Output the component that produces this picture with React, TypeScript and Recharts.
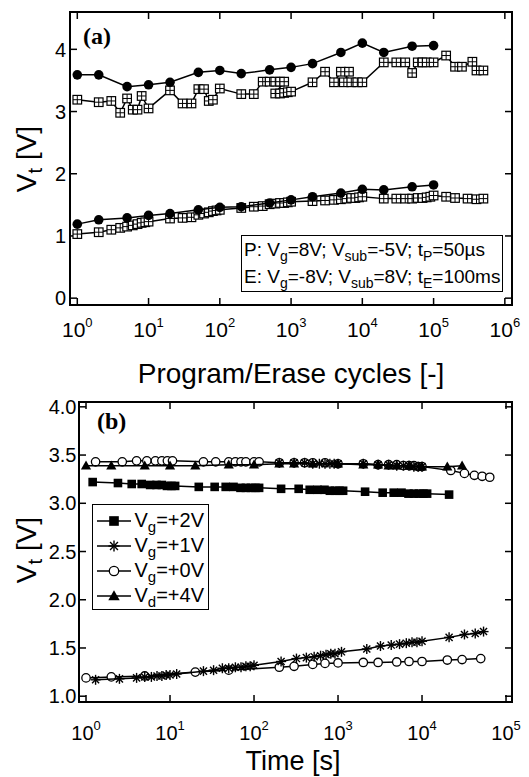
import React from 'react';
import { ScatterChart, Scatter, XAxis, YAxis, Legend } from 'recharts';

const FONT = "'Liberation Sans', Arial, Helvetica, sans-serif";
const SERIF = "'Liberation Serif', 'Times New Roman', serif";

// ---------------- Panel (a): Program/Erase endurance ----------------
const cyclesDot = [1, 2, 5, 10, 20, 50, 100, 200, 500, 1000, 2000, 5000, 10000, 20000, 50000, 100000];
const vtDotProg = [3.59, 3.59, 3.4, 3.43, 3.47, 3.63, 3.66, 3.61, 3.67, 3.71, 3.77, 3.95, 4.1, 3.95, 4.05, 4.06];
const vtDotErase = [1.19, 1.26, 1.29, 1.33, 1.36, 1.42, 1.46, 1.47, 1.53, 1.58, 1.63, 1.69, 1.75, 1.74, 1.79, 1.82];

const cyclesSqProg = [1, 2, 3, 4, 5, 6, 7, 8, 10, 20, 30, 40, 50, 60, 70, 80, 100, 200, 300, 400, 500, 600, 700, 800, 600, 700, 800, 900, 1000, 2000, 3000, 4000, 5000, 6500, 5500, 7000, 8500, 10000, 20000, 30000, 40000, 50000, 60000, 70000, 80000, 100000, 150000, 200000, 250000, 350000, 400000, 500000];
const vtSqProg = [3.19, 3.15, 3.17, 2.98, 3.21, 3.03, 3.03, 3.25, 3.05, 3.34, 3.13, 3.13, 3.36, 3.36, 3.17, 3.19, 3.37, 3.28, 3.28, 3.48, 3.48, 3.48, 3.48, 3.48, 3.29, 3.29, 3.3, 3.31, 3.32, 3.47, 3.64, 3.47, 3.64, 3.64, 3.47, 3.47, 3.47, 3.47, 3.79, 3.79, 3.79, 3.62, 3.79, 3.79, 3.79, 3.79, 3.9, 3.72, 3.72, 3.8, 3.66, 3.66];

const cyclesSqErase = [1, 2, 3, 4, 5, 6, 7, 8, 9, 10, 20, 30, 40, 50, 60, 70, 80, 90, 100, 200, 300, 400, 500, 600, 700, 800, 900, 1000, 2000, 3000, 4000, 5000, 6000, 7000, 8000, 9000, 10000, 20000, 30000, 40000, 50000, 60000, 70000, 80000, 90000, 100000, 150000, 200000, 300000, 400000, 500000];
const vtSqErase = [1.03, 1.06, 1.1, 1.13, 1.15, 1.17, 1.19, 1.21, 1.22, 1.23, 1.28, 1.29, 1.3, 1.34, 1.36, 1.38, 1.4, 1.41, 1.42, 1.45, 1.47, 1.48, 1.51, 1.52, 1.53, 1.53, 1.54, 1.55, 1.56, 1.57, 1.58, 1.59, 1.6, 1.61, 1.61, 1.62, 1.63, 1.6, 1.6, 1.6, 1.6, 1.61, 1.61, 1.62, 1.63, 1.65, 1.63, 1.61, 1.6, 1.59, 1.6];

const cycleTicks = [1, 10, 100, 1000, 10000, 100000, 1000000];
const vtTicksA = [0, 1, 2, 3, 4];

// ---------------- Panel (b): retention under gate/drain stress ----------------
const timeSq = [1.2, 2.4, 3.5, 4.6, 5.8, 6.9, 8, 9.2, 10.4, 11.5, 22, 34, 46, 57, 69, 80, 92, 104, 115, 210, 340, 460, 570, 690, 800, 920, 1040, 1150, 2100, 3400, 4600, 5700, 6900, 8000, 9200, 10400, 11500, 21000];
const vtSq = [3.22, 3.21, 3.2, 3.2, 3.19, 3.19, 3.19, 3.18, 3.18, 3.18, 3.17, 3.17, 3.17, 3.17, 3.16, 3.16, 3.16, 3.16, 3.16, 3.15, 3.15, 3.14, 3.14, 3.14, 3.13, 3.13, 3.13, 3.13, 3.12, 3.11, 3.11, 3.11, 3.1, 3.1, 3.1, 3.1, 3.1, 3.09];

const timeTri = [1, 2, 5, 10, 20, 50, 100, 200, 300, 500, 1000, 2000, 3000, 4000, 5000, 7000, 10000, 20000, 30000];
const vtTri = [3.39, 3.39, 3.39, 3.39, 3.39, 3.4, 3.4, 3.41, 3.41, 3.41, 3.41, 3.4, 3.4, 3.39, 3.39, 3.39, 3.38, 3.38, 3.39];

const timeCircHi = [1.3, 2.7, 4, 5.3, 6.7, 8, 9.3, 10.7, 25, 35, 50, 60, 70, 80, 100, 115, 200, 300, 400, 500, 700, 1000, 2000, 3000, 4000, 5000, 6000, 7000, 8000, 9000, 10000, 22000, 32000, 42000, 52000, 64000];
const vtCircHi = [3.43, 3.43, 3.44, 3.44, 3.44, 3.44, 3.44, 3.44, 3.43, 3.43, 3.43, 3.43, 3.43, 3.43, 3.43, 3.43, 3.42, 3.42, 3.42, 3.42, 3.42, 3.41, 3.41, 3.4, 3.4, 3.4, 3.39, 3.39, 3.39, 3.38, 3.38, 3.34, 3.31, 3.29, 3.28, 3.27];

const timeStarHi = [200, 300, 400, 500, 600, 700, 800, 900, 1000, 2000, 3000, 4000, 5000, 6000, 7000, 8000, 9000, 10000];
const vtStarHi = [3.42, 3.42, 3.42, 3.41, 3.41, 3.41, 3.41, 3.41, 3.41, 3.41, 3.4, 3.4, 3.39, 3.39, 3.39, 3.38, 3.38, 3.38];

const timeStarLo = [1.3, 2.5, 4, 5, 6, 7, 8, 9, 10, 12, 25, 33, 42, 50, 60, 70, 80, 90, 100, 210, 320, 420, 520, 620, 720, 820, 920, 1100, 2200, 3200, 4300, 5400, 6500, 7600, 8700, 10000, 21000, 32000, 43000, 54000];
const vtStarLo = [1.17, 1.18, 1.19, 1.2, 1.2, 1.21, 1.21, 1.22, 1.22, 1.23, 1.26, 1.27, 1.29, 1.29, 1.3, 1.3, 1.31, 1.31, 1.32, 1.36, 1.39, 1.4, 1.41, 1.42, 1.43, 1.44, 1.44, 1.46, 1.49, 1.52, 1.53, 1.54, 1.55, 1.56, 1.56, 1.57, 1.61, 1.64, 1.65, 1.67];

const timeCircLo = [1, 2, 5, 20, 50, 200, 300, 500, 700, 1000, 2000, 3000, 5000, 7000, 10000, 20000, 30000, 50000];
const vtCircLo = [1.19, 1.2, 1.21, 1.25, 1.27, 1.3, 1.31, 1.33, 1.34, 1.345, 1.35, 1.35, 1.355, 1.36, 1.36, 1.375, 1.38, 1.39];

const timeTicks = [1, 10, 100, 1000, 10000, 100000];
const vtTicksB = [1.0, 1.5, 2.0, 2.5, 3.0, 3.5, 4.0];

type Pt = { x: number; y: number };
const zip = (xs: number[], ys: number[]): Pt[] => xs.map((x, i) => ({ x, y: ys[i] }));

// ---------------- markers ----------------
const BigDot = (p: any) => <circle cx={p.cx} cy={p.cy} r={4.8} fill="#000" />;
const GridSquare = (p: any) => {
  const h = 4.3;
  return (
    <g>
      <rect x={p.cx - h} y={p.cy - h} width={2 * h} height={2 * h} fill="#fff" stroke="#000" strokeWidth={1.2} />
      <line x1={p.cx - h} y1={p.cy} x2={p.cx + h} y2={p.cy} stroke="#000" strokeWidth={1} />
      <line x1={p.cx} y1={p.cy - h} x2={p.cx} y2={p.cy + h} stroke="#000" strokeWidth={1} />
    </g>
  );
};
const FilledSquare = (p: any) => {
  const h = 4.3 * (p.s || 1);
  return <rect x={p.cx - h} y={p.cy - h} width={2 * h} height={2 * h} fill="#000" />;
};
const Star = (p: any) => {
  const r = 5 * (p.s || 1);
  const d = r * 0.707;
  return (
    <g stroke="#000" strokeWidth={1.4}>
      <line x1={p.cx - r} y1={p.cy} x2={p.cx + r} y2={p.cy} />
      <line x1={p.cx} y1={p.cy - r} x2={p.cx} y2={p.cy + r} />
      <line x1={p.cx - d} y1={p.cy - d} x2={p.cx + d} y2={p.cy + d} />
      <line x1={p.cx - d} y1={p.cy + d} x2={p.cx + d} y2={p.cy - d} />
    </g>
  );
};
const OpenCircle = (p: any) => (
  <circle cx={p.cx} cy={p.cy} r={4.2 * (p.s || 1)} fill="#fff" stroke="#000" strokeWidth={1.3} />
);
const Triangle = (p: any) => {
  const w = 5.1 * (p.s || 1);
  return (
    <polygon
      points={`${p.cx},${p.cy - w} ${p.cx + w},${p.cy + w * 0.75} ${p.cx - w},${p.cy + w * 0.75}`}
      fill="#000"
    />
  );
};

// ---------------- ticks and labels ----------------
const PowTick = (props: any) => {
  const { x, y, payload, fs, sfs, rise } = props;
  const e = Math.round(Math.log10(payload.value));
  return (
    <text x={x} y={y} textAnchor="middle" fontFamily={FONT} fontSize={fs} fill="#000">
      <tspan>10</tspan>
      <tspan fontSize={sfs} dy={-rise}>{e}</tspan>
    </text>
  );
};
const NumTick = (props: any) => {
  const { x, y, payload, fs, digits } = props;
  return (
    <text x={x} y={y} dy={fs * 0.36} textAnchor="end" fontFamily={FONT} fontSize={fs} fill="#000">
      {Number(payload.value).toFixed(digits)}
    </text>
  );
};
const NoTick = () => <g />;

const VtTitle = (props: any) => {
  const { px, py } = props;
  return (
    <text
      x={px}
      y={py}
      transform={`rotate(-90, ${px}, ${py})`}
      textAnchor="middle"
      fontFamily={FONT}
      fontSize={28}
      fill="#000"
    >
      V<tspan fontSize={20} dy={6}>t</tspan>
      <tspan dy={-6}> [V]</tspan>
    </text>
  );
};
const XTitle = (props: any) => {
  const { px, py, text, fs } = props;
  return (
    <text x={px} y={py} textAnchor="middle" fontFamily={FONT} fontSize={fs || 28} fill="#000">
      {text}
    </text>
  );
};
const PanelLabel = (props: any) => {
  const { px, py, text } = props;
  return (
    <text x={px} y={py} fontFamily={SERIF} fontWeight="bold" fontSize={24} fill="#000">
      {text}
    </text>
  );
};

const Sub = ({ children, fs }: any) => (
  <span style={{ fontSize: fs, position: 'relative', top: 5 }}>{children}</span>
);

const LegendA = () => (
  <div
    style={{
      boxSizing: 'border-box',
      width: 262,
      height: 57,
      border: '1.5px solid #000',
      background: '#fff',
      fontFamily: FONT,
      fontSize: 19,
      lineHeight: '25px',
      padding: '1px 0 0 2px',
      whiteSpace: 'nowrap',
      color: '#000',
    }}
  >
    <div>
      P: V<Sub fs={14}>g</Sub>=8V; V<Sub fs={14}>sub</Sub>=-5V; t<Sub fs={14}>P</Sub>=50µs
    </div>
    <div>
      E: V<Sub fs={14}>g</Sub>=-8V; V<Sub fs={14}>sub</Sub>=8V; t<Sub fs={14}>E</Sub>=100ms
    </div>
  </div>
);

const LegRow = ({ M, sub, rest }: any) => (
  <div style={{ display: 'flex', alignItems: 'center', height: 25 }}>
    <svg width={36} height={20} style={{ display: 'block' }}>
      <line x1={1} y1={10} x2={35} y2={10} stroke="#000" strokeWidth={1.5} />
      <M cx={18} cy={10} s={1.12} />
    </svg>
    <span style={{ marginLeft: 2.5, whiteSpace: 'nowrap' }}>
      V<Sub fs={15}>{sub}</Sub>
      {rest}
    </span>
  </div>
);

const LegendB = () => (
  <div
    style={{
      boxSizing: 'border-box',
      width: 117,
      height: 106,
      border: '1.5px solid #000',
      background: '#fff',
      fontFamily: FONT,
      fontSize: 20,
      lineHeight: '25px',
      padding: '3px 0 0 3px',
      color: '#000',
    }}
  >
    <LegRow M={FilledSquare} sub="g" rest="=+2V" />
    <LegRow M={Star} sub="g" rest="=+1V" />
    <LegRow M={OpenCircle} sub="g" rest="=+0V" />
    <LegRow M={Triangle} sub="d" rest="=+4V" />
  </div>
);

const axisLine = { stroke: '#000', strokeWidth: 2, strokeLinecap: 'square' as const };
const tickLine = { stroke: '#000', strokeWidth: 1.5 };
const seriesLine = { stroke: '#000', strokeWidth: 1.5 };

const ChartA = () => (
  <ScatterChart width={529} height={390} margin={{ top: 0, right: 0, bottom: 0, left: 0 }}>
    <XAxis
      dataKey="x"
      type="number"
      scale="log"
      domain={[0.79, 1.26e6]}
      allowDataOverflow
      ticks={cycleTicks}
      interval={0}
      height={85}
      tickSize={-7}
      tickMargin={39}
      axisLine={axisLine}
      tickLine={tickLine}
      tick={<PowTick fs={21} sfs={13} rise={10} />}
      label={<XTitle px={291} py={383} text="Program/Erase cycles [-]" />}
    />
    <XAxis
      xAxisId="top"
      orientation="top"
      dataKey="x"
      type="number"
      scale="log"
      domain={[0.79, 1.26e6]}
      allowDataOverflow
      ticks={cycleTicks}
      interval={0}
      height={12}
      tickSize={-7}
      axisLine={axisLine}
      tickLine={tickLine}
      tick={<NoTick />}
      label={<PanelLabel px={83} py={44} text="(a)" />}
    />
    <YAxis
      dataKey="y"
      type="number"
      domain={[-0.11, 4.6]}
      allowDataOverflow
      ticks={vtTicksA}
      interval={0}
      width={70}
      tickSize={-7}
      tickMargin={11}
      axisLine={axisLine}
      tickLine={tickLine}
      tick={<NumTick fs={20} digits={0} />}
      label={<VtTitle px={36} py={159} />}
    />
    <YAxis
      yAxisId="right"
      orientation="right"
      dataKey="y"
      type="number"
      domain={[-0.11, 4.6]}
      allowDataOverflow
      ticks={vtTicksA}
      interval={0}
      width={17}
      tickSize={-7}
      axisLine={axisLine}
      tickLine={tickLine}
      tick={<NoTick />}
    />
    <Scatter data={zip(cyclesSqProg, vtSqProg)} line={seriesLine} shape={GridSquare} isAnimationActive={false} />
    <Scatter data={zip(cyclesSqErase, vtSqErase)} line={seriesLine} shape={GridSquare} isAnimationActive={false} />
    <Scatter data={zip(cyclesDot, vtDotProg)} line={seriesLine} shape={BigDot} isAnimationActive={false} />
    <Scatter data={zip(cyclesDot, vtDotErase)} line={seriesLine} shape={BigDot} isAnimationActive={false} />
    <Legend
      layout="vertical"
      align="center"
      verticalAlign="middle"
      wrapperStyle={{ left: 241, top: 235, width: 262, height: 57 }}
      content={() => <LegendA />}
    />
  </ScatterChart>
);

const ChartB = () => (
  <ScatterChart width={529} height={387} margin={{ top: 0, right: 0, bottom: 0, left: 0 }}>
    <XAxis
      dataKey="x"
      type="number"
      scale="log"
      domain={[0.825, 117800]}
      allowDataOverflow
      ticks={timeTicks}
      interval={0}
      height={75}
      tickSize={-7}
      tickMargin={45}
      axisLine={axisLine}
      tickLine={tickLine}
      tick={<PowTick fs={20} sfs={13} rise={10} />}
      label={<XTitle px={293} py={380} fs={27} text="Time [s]" />}
    />
    <XAxis
      xAxisId="top"
      orientation="top"
      dataKey="x"
      type="number"
      scale="log"
      domain={[0.825, 117800]}
      allowDataOverflow
      ticks={timeTicks}
      interval={0}
      height={12}
      tickSize={-7}
      axisLine={axisLine}
      tickLine={tickLine}
      tick={<NoTick />}
      label={<PanelLabel px={97} py={39} text="(b)" />}
    />
    <YAxis
      dataKey="y"
      type="number"
      domain={[0.94, 4.05]}
      allowDataOverflow
      ticks={vtTicksB}
      interval={0}
      width={79}
      tickSize={-7}
      tickMargin={9.5}
      axisLine={axisLine}
      tickLine={tickLine}
      tick={<NumTick fs={20} digits={1} />}
      label={<VtTitle px={36} py={160} />}
    />
    <YAxis
      yAxisId="right"
      orientation="right"
      dataKey="y"
      type="number"
      domain={[0.94, 4.05]}
      allowDataOverflow
      ticks={vtTicksB}
      interval={0}
      width={17}
      tickSize={-7}
      axisLine={axisLine}
      tickLine={tickLine}
      tick={<NoTick />}
    />
    <Scatter data={zip(timeSq, vtSq)} line={seriesLine} shape={FilledSquare} isAnimationActive={false} />
    <Scatter data={zip(timeCircHi, vtCircHi)} line={seriesLine} shape={OpenCircle} isAnimationActive={false} />
    <Scatter data={zip(timeTri, vtTri)} line={seriesLine} shape={Triangle} isAnimationActive={false} />
    <Scatter data={zip(timeStarHi, vtStarHi)} line={seriesLine} shape={Star} isAnimationActive={false} />
    <Scatter data={zip(timeCircLo, vtCircLo)} line={seriesLine} shape={OpenCircle} isAnimationActive={false} />
    <Scatter data={zip(timeStarLo, vtStarLo)} line={seriesLine} shape={Star} isAnimationActive={false} />
    <Legend
      layout="vertical"
      align="center"
      verticalAlign="middle"
      wrapperStyle={{ left: 92, top: 114, width: 117, height: 106 }}
      content={() => <LegendB />}
    />
  </ScatterChart>
);

export default function App() {
  return (
    <div style={{ position: 'absolute', left: 0, top: 0, width: 529, height: 777, background: '#fff' }}>
      <div style={{ position: 'absolute', left: 0, top: 0 }}>
        <ChartA />
      </div>
      <div style={{ position: 'absolute', left: 0, top: 390 }}>
        <ChartB />
      </div>
    </div>
  );
}
